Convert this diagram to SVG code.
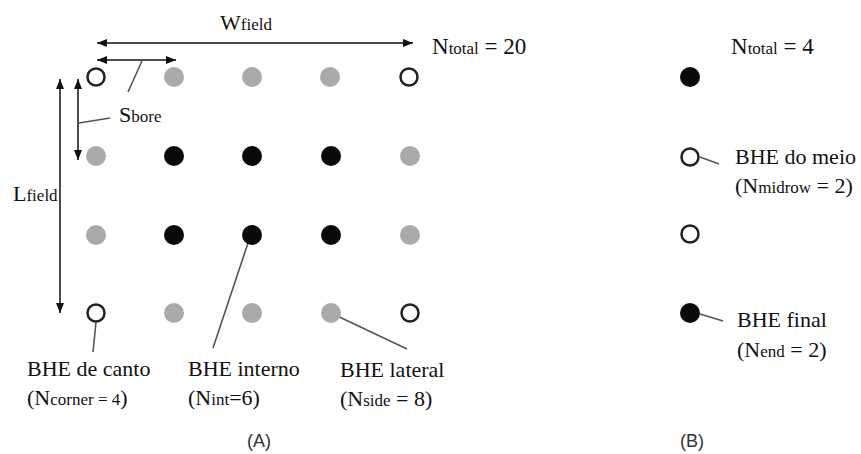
<svg xmlns="http://www.w3.org/2000/svg" width="861" height="454" viewBox="0 0 861 454">
<style>
text{font-family:"Liberation Serif","Times New Roman",serif;font-size:22px;fill:#111}
.s{font-size:17px}
.big{font-size:23px}
.cap{font-family:"Liberation Sans",Arial,sans-serif;font-size:18px;fill:#333}
.blk{fill:#0a0a0a}
.gry{fill:#aaaaaa}
.hol{fill:#fff;stroke:#222;stroke-width:2.5}
.arr{stroke:#111;stroke-width:1.5;fill:none;marker-start:url(#ah);marker-end:url(#ah)}
.ldr{stroke:#555;stroke-width:1.6;fill:none}
</style>
<defs>
<marker id="ah" viewBox="0 0 10 8" refX="10" refY="4" markerWidth="10" markerHeight="8" markerUnits="userSpaceOnUse" orient="auto-start-reverse"><path d="M0,0 L10,4 L0,8 z" fill="#111"/></marker>
</defs>
<rect width="861" height="454" fill="#fff"/>
<g id="connectors">
<line class="arr" x1="97" y1="43" x2="413" y2="43"/>
<line class="arr" x1="97" y1="60" x2="176" y2="60"/>
<line class="arr" x1="78" y1="79" x2="78" y2="160"/>
<line class="arr" x1="60" y1="79" x2="60" y2="313"/>
<line class="ldr" x1="142" y1="61" x2="128" y2="92"/>
<line class="ldr" x1="79" y1="123" x2="110" y2="118"/>
<line class="ldr" x1="96" y1="322" x2="93" y2="352"/>
<line class="ldr" x1="248" y1="243" x2="213" y2="348"/>
<line class="ldr" x1="331" y1="313" x2="407" y2="349"/>
<line class="ldr" x1="700" y1="157" x2="719" y2="164"/>
<line class="ldr" x1="700" y1="314" x2="723" y2="321"/>
</g>
<g id="gridA">
<circle id="a11" class="hol" cx="96" cy="77" r="8.5"/>
<circle id="a12" class="gry" cx="174" cy="77" r="10"/>
<circle id="a13" class="gry" cx="252" cy="77" r="10"/>
<circle id="a14" class="gry" cx="330" cy="77" r="10"/>
<circle id="a15" class="hol" cx="409" cy="77" r="8.5"/>
<circle id="a21" class="gry" cx="96" cy="156" r="10"/>
<circle id="a22" class="blk" cx="174" cy="156" r="10"/>
<circle id="a23" class="blk" cx="252" cy="156" r="10"/>
<circle id="a24" class="blk" cx="331" cy="156" r="10"/>
<circle id="a25" class="gry" cx="410" cy="156" r="10"/>
<circle id="a31" class="gry" cx="96" cy="235" r="10"/>
<circle id="a32" class="blk" cx="174" cy="235" r="10"/>
<circle id="a33" class="blk" cx="252" cy="235" r="10"/>
<circle id="a34" class="blk" cx="331" cy="235" r="10"/>
<circle id="a35" class="gry" cx="410" cy="235" r="10"/>
<circle id="a41" class="hol" cx="96" cy="313" r="8.5"/>
<circle id="a42" class="gry" cx="174" cy="313" r="10"/>
<circle id="a43" class="gry" cx="252" cy="313" r="10"/>
<circle id="a44" class="gry" cx="331" cy="313" r="10"/>
<circle id="a45" class="hol" cx="410" cy="313" r="8.5"/>
</g>
<g id="gridB">
<circle id="b1" class="blk" cx="690" cy="77" r="10"/>
<circle id="b2" class="hol" cx="690" cy="157" r="8.5"/>
<circle id="b3" class="hol" cx="690" cy="234" r="8.5"/>
<circle id="b4" class="blk" cx="690" cy="313" r="10"/>
</g>
<g id="labels">
<text x="220" y="30">W<tspan class="s">field</tspan></text>
<text class="big" x="432" y="54">N<tspan class="s">total</tspan> = 20</text>
<text x="119" y="122">S<tspan class="s">bore</tspan></text>
<text x="13" y="201">L<tspan class="s">field</tspan></text>
<text x="27" y="376">BHE de canto</text>
<text x="27" y="405">(N<tspan class="s">corner = 4</tspan>)</text>
<text x="188" y="376">BHE interno</text>
<text x="188" y="405">(N<tspan class="s">int</tspan>=6)</text>
<text x="340" y="377">BHE lateral</text>
<text x="340" y="406">(N<tspan class="s">side</tspan> = 8)</text>
<text class="big" x="731" y="54">N<tspan class="s">total</tspan> = 4</text>
<text x="735" y="164">BHE do meio</text>
<text x="735" y="193">(N<tspan class="s">midrow</tspan> = 2)</text>
<text x="737" y="327">BHE final</text>
<text x="737" y="357">(N<tspan class="s">end</tspan> = 2)</text>
<text class="cap" x="259" y="447" text-anchor="middle">(A)</text>
<text class="cap" x="692" y="447" text-anchor="middle">(B)</text>
</g>
</svg>
